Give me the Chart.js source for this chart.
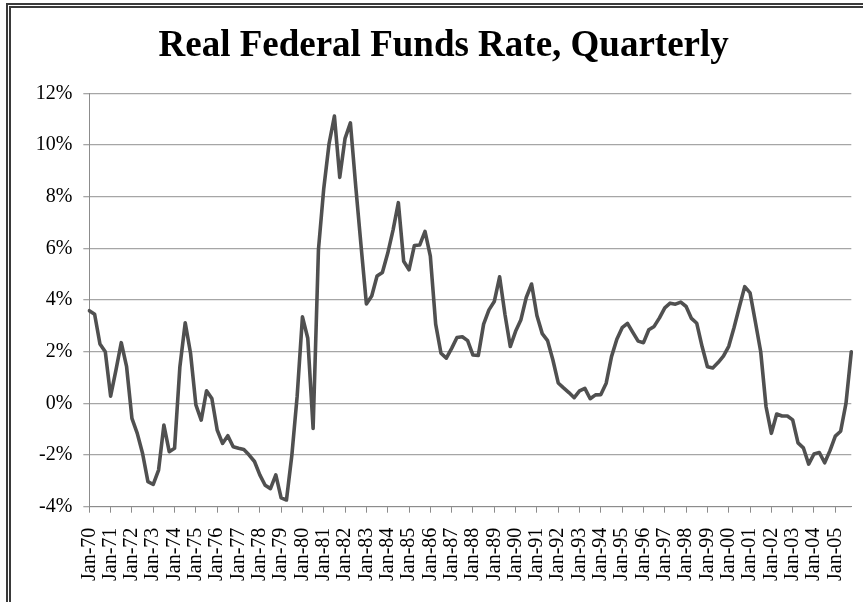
<!DOCTYPE html>
<html>
<head>
<meta charset="utf-8">
<script src="https://cdn.jsdelivr.net/npm/chart.js@4.4.1/dist/chart.umd.min.js"></script>
<style>
  html, body { margin: 0; padding: 0; background: #fff; overflow: hidden; }
  #frame {
    position: absolute; left: 6px; top: 3px; width: 857px; height: 599px;
    border-left: 5px double #3a3a3a; border-top: 5px double #3a3a3a;
    box-sizing: border-box;
  }
  #wrap { position: absolute; left: 0; top: 0; width: 863px; height: 602px; }
</style>
</head>
<body>
<div id="frame"></div>
<div id="wrap"><canvas id="rateChart"></canvas></div>
<script>
// one label per January, quarterly points in between
const yearLabels = [
  "Jan-70", "Jan-71", "Jan-72", "Jan-73", "Jan-74", "Jan-75", "Jan-76", "Jan-77", "Jan-78",
  "Jan-79", "Jan-80", "Jan-81", "Jan-82", "Jan-83", "Jan-84", "Jan-85", "Jan-86", "Jan-87",
  "Jan-88", "Jan-89", "Jan-90", "Jan-91", "Jan-92", "Jan-93", "Jan-94", "Jan-95", "Jan-96",
  "Jan-97", "Jan-98", "Jan-99", "Jan-00", "Jan-01", "Jan-02", "Jan-03", "Jan-04", "Jan-05",
];
const quarterNames = ["Jan", "Apr", "Jul", "Oct"];

// real fed funds rate, percent, 1970Q1 .. 2005Q4
const realRate = [
  3.59, 3.45, 2.3, 2.0, 0.28, 1.29, 2.35, 1.42,
  -0.58, -1.16, -1.94, -3.03, -3.14, -2.58, -0.84, -1.87,
  -1.74, 1.42, 3.12, 1.94, -0.06, -0.65, 0.49, 0.19,
  -1.03, -1.55, -1.25, -1.68, -1.74, -1.79, -2.0, -2.25,
  -2.77, -3.17, -3.3, -2.77, -3.66, -3.74, -2.03, 0.26,
  3.35, 2.52, -0.97, 5.94, 8.32, 10.06, 11.12, 8.75,
  10.26, 10.86, 8.4, 6.1, 3.85, 4.16, 4.93, 5.07,
  5.81, 6.71, 7.77, 5.5, 5.17, 6.11, 6.13, 6.66,
  5.7, 3.07, 1.94, 1.75, 2.13, 2.55, 2.58, 2.43,
  1.87, 1.86, 3.07, 3.62, 3.94, 4.9, 3.45, 2.2,
  2.79, 3.24, 4.1, 4.62, 3.4, 2.7, 2.43, 1.68,
  0.79, 0.6, 0.42, 0.22, 0.48, 0.58, 0.18, 0.33,
  0.34, 0.78, 1.81, 2.48, 2.93, 3.1, 2.75, 2.41,
  2.35, 2.85, 2.98, 3.31, 3.7, 3.88, 3.84, 3.92,
  3.75, 3.29, 3.1, 2.2, 1.42, 1.37, 1.58, 1.83,
  2.21, 2.94, 3.74, 4.52, 4.28, 3.15, 2.0, -0.13,
  -1.16, -0.41, -0.49, -0.49, -0.64, -1.53, -1.72, -2.35,
  -1.96, -1.9, -2.3, -1.83, -1.27, -1.08, 0.0, 2.0,
];

const quarterLabels = realRate.map((v, i) =>
  quarterNames[i % 4] + "-" + yearLabels[Math.floor(i / 4)].slice(4));

const serif = "'Liberation Serif', 'Times New Roman', serif";
const axisGrey = "#8c8c8c";

const ctx = document.getElementById("rateChart");
new Chart(ctx, {
  type: "line",
  data: {
    labels: quarterLabels,
    datasets: [{
      data: realRate,
      borderColor: "#505050",
      borderWidth: 3.6,
      borderJoinStyle: "round",
      borderCapStyle: "round",
      pointRadius: 0,
      tension: 0,
      fill: false,
    }],
  },
  options: {
    responsive: true,
    maintainAspectRatio: false,
    animation: false,
    layout: { padding: { left: 36, right: 11.7, top: 0, bottom: 0 } },
    plugins: {
      legend: { display: false },
      tooltip: { enabled: false },
      title: {
        display: true,
        text: "Real Federal Funds Rate, Quarterly",
        color: "#000",
        font: { family: serif, size: 37, weight: "bold" },
        padding: { top: 24, bottom: 25 },
      },
    },
    scales: {
      x: {
        type: "category",
        offset: false,
        afterFit: (scale) => {
          scale.height = 95.3;
          // rotated labels otherwise reserve room on the right
          scale.paddingLeft = 0;
          scale.paddingRight = 0;
        },
        grid: {
          display: true,
          drawOnChartArea: false,
          drawTicks: true,
          tickLength: 6,
          tickColor: (c) => (c.index % 4 === 0 ? axisGrey : "rgba(0,0,0,0)"),
        },
        border: { display: true, color: axisGrey, width: 1 },
        ticks: {
          autoSkip: false,
          minRotation: 90,
          maxRotation: 90,
          padding: 15,
          color: "#000",
          font: { family: serif, size: 20 },
          callback: (v, i) => (i % 4 === 0 ? yearLabels[i / 4] : ""),
        },
      },
      y: {
        min: -4,
        max: 12,
        afterFit: (scale) => { scale.width = 53.3; },
        grid: { color: "#a6a6a6", lineWidth: 1.3, tickLength: 6, drawTicks: true },
        border: { display: true, color: axisGrey, width: 1 },
        ticks: {
          stepSize: 2,
          padding: 11,
          color: "#000",
          font: { family: serif, size: 20 },
          callback: (v) => v + "%",
        },
      },
    },
  },
});
</script>
</body>
</html>
